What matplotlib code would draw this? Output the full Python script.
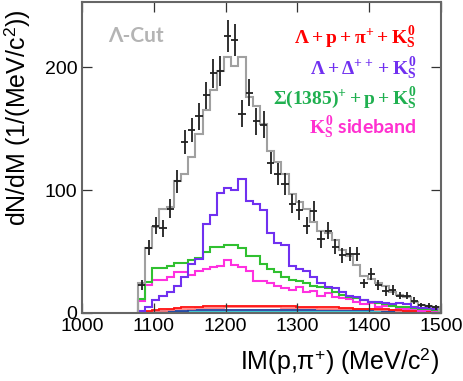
import numpy as np
import matplotlib
matplotlib.use('Agg')
import matplotlib.pyplot as plt

plt.rcParams['font.family'] = ['Liberation Sans', 'DejaVu Sans']
plt.rcParams['mathtext.fontset'] = 'custom'
plt.rcParams['mathtext.rm'] = 'Liberation Serif:bold'
plt.rcParams['mathtext.it'] = 'Liberation Serif:bold'
plt.rcParams['mathtext.bf'] = 'Liberation Serif:bold'

# 10 MeV bins starting at the p+pi+ threshold
edges = np.arange(1078, 1499, 10)
centers = edges[:-1] + 5

data_counts = [23, 53, 71, 69, 85, 107, 139, 149, 160, 177, 195, 197, 225, 222,
               162, 179, 156, 153, 122, 113, 105, 89, 84, 71, 83, 60, 67, 54,
               47, 48, 48, 24, 32, 23, 18, 19, 14, 14, 10, 6.5, 6, 4.5]
data_err = [4, 6, 7, 7, 8, 9, 10, 10, 11, 11, 12, 12, 13, 13,
            11, 11, 11, 11, 9, 9, 9, 8, 8, 7, 8, 7, 7, 6,
            6, 6, 6, 4, 5, 4, 4, 4, 3, 3, 3, 2, 2, 2]

fit_total = [24, 53, 70, 85, 86, 107, 113, 127, 146, 165, 181, 197, 208, 201,
             208, 176, 168, 154, 132, 123, 113, 97, 90, 85, 74, 67, 65, 59,
             51, 46, 39, 30, 28, 24, 22, 17, 15, 13, 9, 6.5, 6, 5]
lam_delta = [2, 5, 10.5, 14, 17, 22, 29, 40, 44, 72, 80, 98, 102, 100,
             109, 91, 89, 84, 65, 57, 55, 38, 36, 34, 29.5, 24, 21.5, 20,
             17.3, 14, 13, 10.6, 9, 9, 8, 7.5, 8, 7, 5, 4, 4, 3.5]
sigma_p = [11, 25, 37, 37, 38, 41, 41, 43, 45, 50, 54, 54, 55, 55,
           53, 46, 46, 40, 36, 33, 29, 27, 26, 24, 22, 21, 20, 17,
           15, 13, 12, 10.5, 9, 8, 7, 6, 5, 4.5, 4, 3, 3, 2.5]
sideband = [10, 23, 27, 27, 29.5, 33, 33, 31, 34, 36, 37.7, 38, 43, 39,
            37.7, 34, 26, 26, 24, 22, 20, 19, 21, 17, 18, 14, 16, 13,
            12, 11, 9, 7, 8, 5, 6, 7, 4, 3, 3.5, 2, 2.5, 2]
lam_p_pi = [1, 2, 2.5, 3, 3.5, 4, 4.5, 5, 5, 5.5, 5.5, 6, 6, 6,
            6, 6, 6, 6, 6, 5.5, 5.5, 5.5, 5, 5, 5, 4.5, 4.5, 4.5,
            4, 4, 3.5, 3.5, 3, 3, 3, 2.5, 2.5, 2, 2, 2, 1.5, 1.5]
other_a = [0.5, 1, 1.5, 2, 2.5, 3, 3.5, 3.5, 4, 4, 4, 4, 4.5, 4.5,
           4.5, 4.5, 4.5, 4.5, 4.5, 4.5, 4, 4, 4, 4, 4, 3.5, 3.5, 3.5,
           3.5, 3, 3, 3, 3, 2.5, 2.5, 2.5, 2, 2, 2, 1.5, 1.5, 1.5]
other_b = [0.5, 1, 1.5, 1.5, 2, 2, 2, 2.5, 2.5, 2.5, 2.5, 2.5, 2.5, 2.5,
           2.5, 2.5, 2.5, 2.5, 2.5, 2.5, 2.5, 2.5, 2.5, 2.5, 2.5, 2.5, 2.5, 2.5,
           2.5, 2.5, 2.5, 2.5, 2.5, 2.5, 2, 2, 2, 2, 2, 2, 2, 2]
other_c = [0.3, 0.6, 0.8, 1, 1, 1.2, 1.2, 1.2, 1.2, 1.2, 1.2, 1.2, 1.2, 1.2,
           1.2, 1.2, 1.2, 1.2, 1.2, 1.2, 1.2, 1.2, 1.2, 1.2, 1.2, 1.2, 1.2, 1.2,
           1.2, 1.2, 1.2, 1.2, 1.2, 1.2, 1.2, 1.0, 1.0, 1.0, 1.0, 1.0, 1.0, 1.0]
other_d = [0.2, 0.3, 0.4, 0.4, 0.5, 0.5, 0.5, 0.5, 0.5, 0.5, 0.5, 0.5, 0.5, 0.5,
           0.5, 0.5, 0.5, 0.5, 0.5, 0.5, 0.5, 0.5, 0.5, 0.5, 0.5, 0.5, 0.5, 0.5,
           0.5, 0.5, 0.5, 0.5, 0.5, 0.5, 0.5, 0.5, 0.5, 0.5, 0.5, 0.5, 0.5, 0.5]

fig = plt.figure(figsize=(4.64, 3.81), dpi=100)
ax = fig.add_axes([0.1767, 0.1785, 0.7733, 0.8163])

ax.stairs(other_d, edges, color='#e09040', lw=1.3)
ax.stairs(other_c, edges, color='#30d0e0', lw=1.3)
ax.stairs(other_b, edges, color='#2040a0', lw=1.3)
ax.stairs(other_a, edges, color='#ff8080', lw=1.3)
ax.stairs(lam_p_pi, edges, color='#ff1010', lw=1.3)
ax.stairs(sideband, edges, color='#ff30e0', lw=1.5)
ax.stairs(sigma_p, edges, color='#30c030', lw=1.5)
ax.stairs(lam_delta, edges, color='#7030f0', lw=1.5)
ax.stairs(fit_total, edges, color='#a0a0a0', lw=1.5)

ax.errorbar(centers, data_counts, yerr=data_err, xerr=5, fmt='none',
            ecolor='#202020', elinewidth=1.3, capsize=0)

ax.set_xlim(1000, 1500)
ax.set_ylim(0, 253)
ax.set_xticks([1000, 1100, 1200, 1300, 1400, 1500])
ax.set_yticks([0, 100, 200])
ax.tick_params(direction='in', length=7, width=0.9, labelsize=14,
               top=True, right=True, colors='#333333', labelcolor='black')
for s in ax.spines.values():
    s.set_color('#666666')
    s.set_linewidth(1.5)

ax.set_xlabel(r'IM(p,π$^{\mathregular{+}}$) (MeV/c$^{\mathregular{2}}$)',
              fontsize=18, loc='right')
ax.xaxis.set_label_coords(0.995, -0.105)
ax.set_ylabel(r'dN/dM (1/(MeV/c$^{\mathregular{2}}$))', fontsize=18)
ax.yaxis.set_label_coords(-0.14, 0.627)

ax.text(1037, 225, 'Λ-Cut', color='#b4b4b4', fontsize=15,
        fontfamily='Lato', fontweight='bold', va='center', ha='left')

kw = dict(ha='right', va='center', fontsize=14)
ax.text(1466, 224, r'$\Lambda + p + \pi^{+} + K^{0}_{S}$', color='#ff0000', **kw)
ax.text(1466, 199, r'$\Lambda + \Delta^{++} + K^{0}_{S}$', color='#7030f0', **kw)
ax.text(1466, 175, r'$\Sigma(1385)^{+} + p + K^{0}_{S}$', color='#20b050', **kw)
ax.text(1466, 151, r'$K^{0}_{S}$ sideband', color='#ff30d0',
        fontfamily='Lato', fontweight='bold', **kw)

fig.savefig('out.png', dpi=100)
